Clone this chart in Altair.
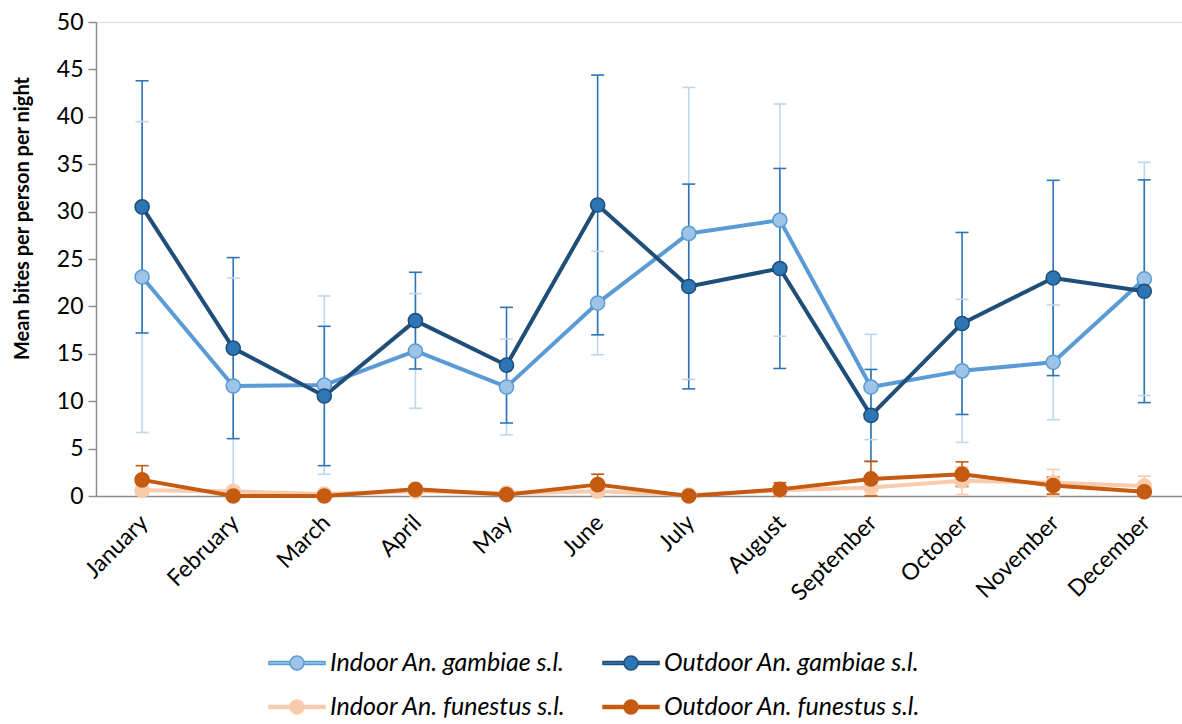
import altair as alt
import pandas as pd

months = ["January", "February", "March", "April", "May", "June", "July",
          "August", "September", "October", "November", "December"]

series_names = ["Indoor An. gambiae s.l.", "Outdoor An. gambiae s.l.",
                "Indoor An. funestus s.l.", "Outdoor An. funestus s.l."]

# Mean bites per person per night and the half-width of each error bar
indoor_gambiae = [23.1, 11.6, 11.7, 15.3, 11.5, 20.35, 27.7, 29.1, 11.5, 13.2, 14.1, 22.9]
indoor_gambiae_err = [16.4, 11.4, 9.4, 6.05, 5.05, 5.45, 15.4, 12.25, 5.55, 7.55, 6.05, 12.3]

outdoor_gambiae = [30.5, 15.6, 10.55, 18.5, 13.8, 30.7, 22.1, 24.0, 8.5, 18.2, 23.0, 21.6]
outdoor_gambiae_err = [13.3, 9.55, 7.35, 5.1, 6.1, 13.7, 10.8, 10.55, 4.85, 9.6, 10.3, 11.75]

indoor_funestus = [0.6, 0.5, 0.2, 0.5, 0.3, 0.5, 0.1, 0.6, 0.9, 1.6, 1.4, 1.05]
indoor_funestus_err = [0.3, 0.3, 0.2, 0.3, 0.2, 0.3, 0.1, 0.3, 0.8, 1.45, 1.4, 1.05]

outdoor_funestus = [1.7, 0.0, 0.0, 0.7, 0.15, 1.2, 0.0, 0.7, 1.8, 2.3, 1.1, 0.45]
outdoor_funestus_err = [1.5, 0.0, 0.0, 0.4, 0.1, 1.1, 0.0, 0.7, 1.85, 1.3, 0.9, 0.3]

line_colors = ["#5B9BD5", "#1F4E79", "#F8CBAD", "#C55A11"]
fill_colors = ["#9DC3E6", "#2E75B6", "#F8CBAD", "#C55A11"]
error_colors = ["#BDD7EE", "#2E75B6", "#F8CBAD", "#C55A11"]
line_widths = [4, 4, 5, 4]

# legend fills column by column: indoor series in the first column
legend_order = [series_names[0], series_names[2], series_names[1], series_names[3]]
idx = [series_names.index(s) for s in legend_order]
legend_line_colors = [line_colors[i] for i in idx]
legend_fill_colors = [fill_colors[i] for i in idx]

means = [indoor_gambiae, outdoor_gambiae, indoor_funestus, outdoor_funestus]
errors = [indoor_gambiae_err, outdoor_gambiae_err, indoor_funestus_err, outdoor_funestus_err]

rows = []
for name, vals, errs, ecol in zip(series_names, means, errors, error_colors):
    for k, (m, v, e) in enumerate(zip(months, vals, errs)):
        rows.append({"month": m, "month_idx": k, "series": name, "mean": v,
                     "lo": max(v - e, 0.0), "hi": v + e, "err": e, "ecolor": ecol})
df = pd.DataFrame(rows)

x_enc = alt.X("month:N", sort=months,
              scale=alt.Scale(type="point", padding=0.46, align=0.55),
              axis=alt.Axis(title=None, labelAngle=-45, labelFontSize=23,
                            labelFont="Lato", labelColor="black", ticks=False,
                            domainColor="#8C8C8C", domainWidth=1.5,
                            labelPadding=15, labelOffset=-6))

y_scale = alt.Scale(domain=[0, 50], nice=False)

# symbol: a short line with a circle in its middle
legend_path = ("M-2,-0.1L-0.5,-0.1L-0.5,0.1L-2,0.1Z "
               "M0.5,-0.1L2,-0.1L2,0.1L0.5,0.1Z "
               "M0.5,0A0.5,0.5,0,1,1,-0.5,0A0.5,0.5,0,1,1,0.5,0Z")
legend = alt.Legend(orient="none", legendX=186, legendY=626, columns=2, title=None,
                    symbolType=legend_path, symbolSize=784, symbolStrokeWidth=1.5,
                    labelFont="Lato", labelFontStyle="italic", labelFontSize=25,
                    labelColor="black", labelLimit=500, labelOffset=18,
                    rowPadding=16, columnPadding=34)

stroke_enc = alt.Stroke("series:N",
                        scale=alt.Scale(domain=legend_order, range=legend_line_colors),
                        legend=legend)
fill_enc = alt.Fill("series:N",
                    scale=alt.Scale(domain=legend_order, range=legend_fill_colors),
                    legend=legend)

err_df = df[df["err"] > 0]
base_err = alt.Chart(err_df)
err_rules = base_err.mark_rule(strokeWidth=1.6).encode(
    x=x_enc,
    y=alt.Y("lo:Q", scale=y_scale),
    y2="hi:Q",
    color=alt.Color("ecolor:N", scale=None),
)
err_lo = base_err.mark_tick(size=13, thickness=1.6, opacity=1).encode(
    x=x_enc, y=alt.Y("lo:Q", scale=y_scale), color=alt.Color("ecolor:N", scale=None))
err_hi = base_err.mark_tick(size=13, thickness=1.6, opacity=1).encode(
    x=x_enc, y=alt.Y("hi:Q", scale=y_scale), color=alt.Color("ecolor:N", scale=None))

lines = alt.Chart(df).mark_line(strokeJoin="round", strokeCap="round").encode(
    x=x_enc,
    y=alt.Y("mean:Q", scale=y_scale),
    stroke=stroke_enc,
    strokeWidth=alt.StrokeWidth("series:N",
                                scale=alt.Scale(domain=series_names, range=line_widths),
                                legend=None),
    order=alt.Order("month_idx:Q"),
)

points = alt.Chart(df).mark_point(filled=True, shape="circle", size=200,
                                  opacity=1, strokeWidth=1.5).encode(
    x=x_enc,
    y=alt.Y("mean:Q", scale=y_scale,
            axis=alt.Axis(values=list(range(0, 51, 5)), grid=False,
                          title="Mean bites per person per night",
                          titleFont="Lato", titleFontSize=20, titleFontWeight="bold",
                          titleColor="black", titleX=-74, titleY=196,
                          titleAngle=-90, titleAlign="center", titleBaseline="middle",
                          labelFont="Lato", labelFontSize=23, labelColor="black",
                          labelPadding=5, tickSize=8, tickColor="#8C8C8C",
                          domainColor="#8C8C8C", domainWidth=1.5, tickWidth=1.5)),
    fill=fill_enc,
    stroke=stroke_enc,
)

chart = alt.layer(err_rules, err_lo, err_hi, lines, points).properties(
    width=1086,
    height=474,
    autosize=alt.AutoSizeParams(type="none"),
    padding={"left": 96, "top": 22, "right": 0, "bottom": 228},
).configure_view(stroke=None).configure(font="Lato", background="white")

chart.save("out.html", embed_options={"renderer": "svg", "actions": False})
